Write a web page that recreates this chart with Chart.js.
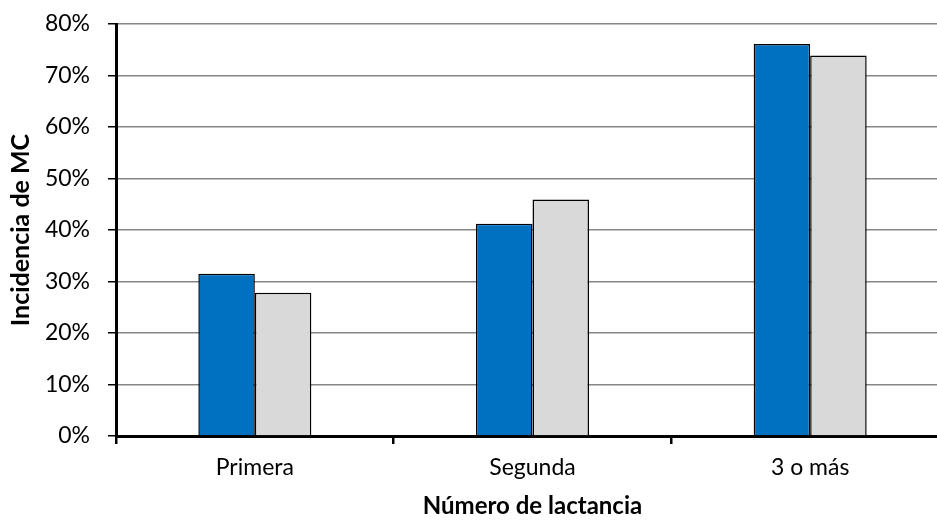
<!DOCTYPE html>
<html>
<head>
<meta charset="utf-8">
<script src="https://cdn.jsdelivr.net/npm/chart.js@4"></script>
<style>
  html, body { margin: 0; padding: 0; background: #fff; overflow: hidden; }
  /* the plot runs a little past the right edge of the window, as in the original */
  #wrap { width: 949px; height: 522px; }
</style>
</head>
<body>
<div id="wrap"><canvas id="chart"></canvas></div>
<script>
// Incidencia de MC por número de lactancia
const categories = ["Primera", "Segunda", "3 o más"]
const serieAzul = [31.5, 41.2, 76.1]
const serieGris = [27.8, 45.9, 73.9]
const yTicks = [0, 10, 20, 30, 40, 50, 60, 70, 80]

const fuente = "Lato, 'Open Sans', sans-serif"

new Chart(document.getElementById("chart"), {
  type: "bar",
  data: {
    labels: categories,
    datasets: [
      {
        label: "Serie 1",
        data: serieAzul,
        backgroundColor: "#0070C0",
        borderColor: "#000",
        borderWidth: 1.5
      },
      {
        label: "Serie 2",
        data: serieGris,
        backgroundColor: "#D9D9D9",
        borderColor: "#000",
        borderWidth: 1.5
      }
    ]
  },
  options: {
    responsive: true,
    maintainAspectRatio: false,
    animation: false,
    datasets: {
      bar: { categoryPercentage: 0.407, barPercentage: 1 }
    },
    layout: { padding: { top: 24, right: 0, left: 0, bottom: 0 } },
    plugins: {
      legend: { display: false },
      tooltip: { enabled: false }
    },
    scales: {
      x: {
        afterFit: (s) => {
          s.height = 86
          s.paddingLeft = 0
          s.paddingRight = 0
        },
        grid: {
          offset: true,
          drawOnChartArea: false,
          tickLength: 8,
          tickColor: "#000",
          lineWidth: 2.5
        },
        border: { color: "#000", width: 3 },
        ticks: {
          color: "#000",
          padding: 10,
          font: { family: fuente, size: 23 }
        },
        title: {
          display: true,
          text: "Número de lactancia",
          color: "#000",
          padding: { top: 0, bottom: 1 },
          font: { family: fuente, size: 24, weight: "bold" }
        }
      },
      y: {
        min: 0,
        max: 80,
        afterFit: (s) => {
          s.width = 116
          s.paddingTop = 0
          s.paddingBottom = 0
        },
        afterBuildTicks: (s) => { s.ticks = yTicks.map(v => ({ value: v })) },
        grid: {
          color: "#868686",
          lineWidth: 1.5,
          tickLength: 8,
          tickColor: "#000"
        },
        border: { color: "#000", width: 3 },
        ticks: {
          color: "#000",
          padding: 18,
          font: { family: fuente, size: 23 },
          callback: (v) => v + "%"
        },
        title: {
          display: true,
          text: "Incidencia de MC",
          color: "#000",
          padding: { top: 6, bottom: 0 },
          font: { family: fuente, size: 25, weight: "bold" }
        }
      }
    }
  }
})
</script>
</body>
</html>
